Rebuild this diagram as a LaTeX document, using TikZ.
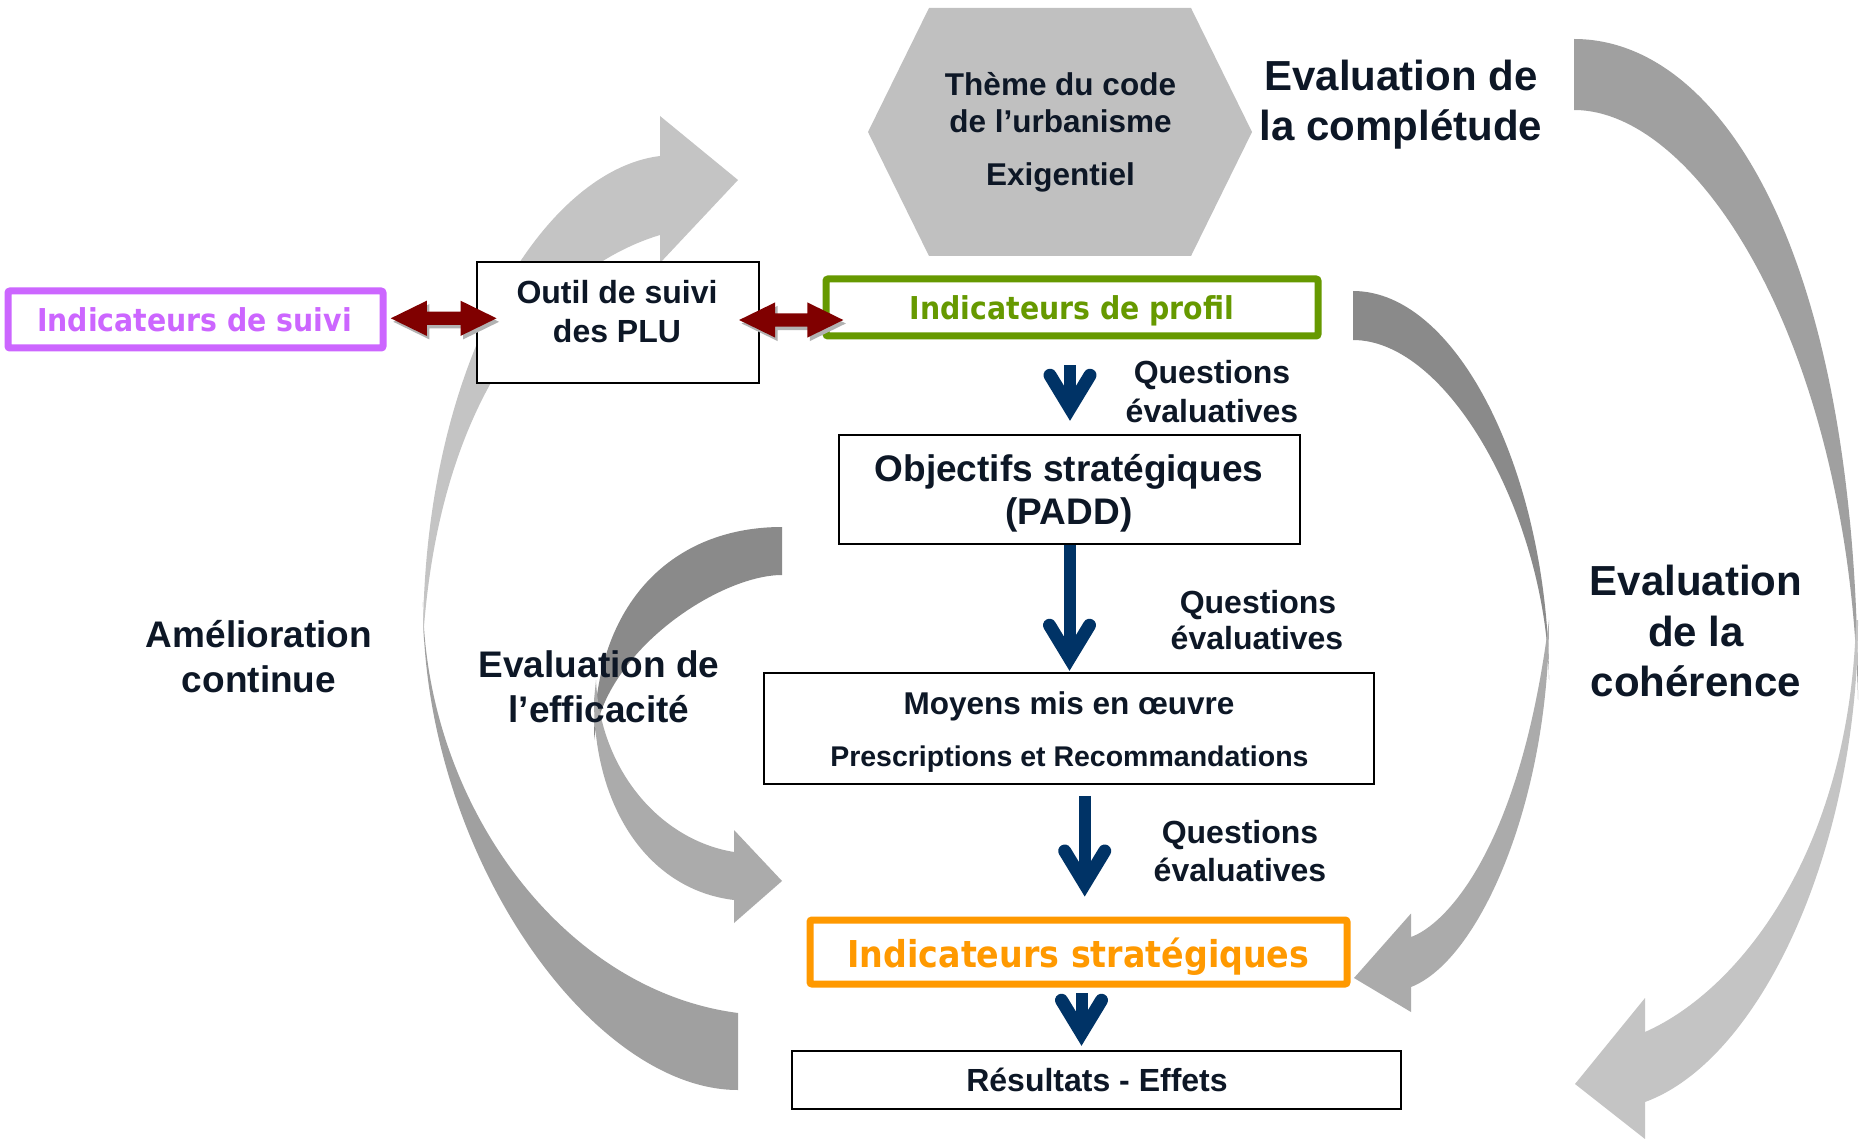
\documentclass[tikz,border=0pt]{standalone}
\usepackage{fontspec}
\setmainfont{Liberation Sans}
\newfontfamily\condfont{DejaVu Sans}[FakeStretch=0.9]
\usetikzlibrary{calc}
\definecolor{txt}{HTML}{0D1726}
\definecolor{gA}{HTML}{C4C4C4}
\definecolor{gB}{HTML}{A0A0A0}
\definecolor{gC}{HTML}{8A8A8A}
\definecolor{gD}{HTML}{ABABAB}
\definecolor{hexgray}{HTML}{C0C0C0}
\definecolor{navyC}{HTML}{003366}
\definecolor{maroonC}{HTML}{800000}
\definecolor{magentaB}{HTML}{CC66FF}
\definecolor{greenB}{HTML}{669900}
\definecolor{orangeB}{HTML}{FF9900}
\newcommand\fsz[1]{\fontsize{#1}{#1}\selectfont}
\newcommand\dblarrow[3]{%
  \fill[#3] (#1) -- ++(36,-17.6) -- ++(0,10.9) -- ($(#2)+(-36,-6.7)$) -- ++(0,-10.9) -- (#2)
    -- ++(-36,17.6) -- ++(0,-10.9) -- ($(#1)+(36,6.7)$) -- ++(0,10.9) -- cycle;}
\begin{document}
\begin{tikzpicture}[x=1pt,y=-1pt,
  lbl/.style={anchor=base, inner sep=0pt, text=txt},
  bigT/.style={lbl, font=\fsz{42}\bfseries},
  midT/.style={lbl, font=\fsz{37}\bfseries},
  smT/.style={lbl, font=\fsz{32}\bfseries},
  colT/.style={anchor=base, inner sep=0pt},
  thinbox/.style={draw=black, line width=1.5pt, fill=white, inner sep=0pt},
  colbox/.style={line width=7pt, fill=white, inner sep=0pt, rounded corners=2pt},
  navyline/.style={draw=navyC, line width=12pt},
  navyhead/.pic={\draw[navyC, line width=13pt, line cap=round, line join=miter] (-20,-46) -- (0,-13) -- (20,-46);},
]
\fill[white] (0,0) rectangle (1863,1139);
\useasboundingbox (0,0) rectangle (1863,1139);

% ---- big right arc (coherence)
\fill[gB] (1574,39) .. controls (1720,39) and (1858,250) .. (1858,700)
  .. controls (1850,350) and (1700,110) .. (1574,110) -- cycle;
\fill[gA] (1858,620) .. controls (1858,850) and (1760,1060) .. (1645,1102)
  -- (1645,1139) -- (1575,1084) -- (1645,998) -- (1645,1032)
  .. controls (1740,990) and (1850,850) .. (1856,620) -- cycle;

% ---- middle right arc
\fill[gC] (1353,291) .. controls (1460,291) and (1549,480) .. (1549,680)
  .. controls (1547,520) and (1450,340) .. (1353,340) -- cycle;
\fill[gD] (1549,620) .. controls (1549,800) and (1480,960) .. (1411,987)
  -- (1411,1012) -- (1354,978) -- (1411,913.5) -- (1411,937)
  .. controls (1445,925) and (1520,850) .. (1549,620) -- cycle;

% ---- efficacite arc
\fill[gC] (782,527) .. controls (675,527) and (594,600) .. (594,740)
  .. controls (605,650) and (720,575) .. (782,575) -- cycle;
\fill[gD] (594,700) .. controls (594,810) and (650,890) .. (734,900)
  -- (734,923) -- (782,881) -- (734,830) -- (734,852)
  .. controls (660,840) and (600,770) .. (596,680) -- cycle;

% ---- left arc (amelioration continue)
\fill[gB] (738,1090) .. controls (590,1090) and (421,850) .. (423,600)
  .. controls (424,800) and (560,990) .. (738,1013) -- cycle;
\fill[gA] (660,156) .. controls (545,170) and (423,360) .. (423,640)
  .. controls (440,380) and (560,265) .. (660,235)
  -- (660,263) -- (738,180) -- (660,116) -- cycle;

% ---- hexagon
\fill[hexgray] (929,8) -- (1191,8) -- (1252,132) -- (1191,256) -- (929,256) -- (868,132) -- cycle;
\coordinate (theme) at (1060,132);
\node[smT, font=\fsz{31.5}\bfseries] (th1) at (1060.5,95.3) {Thème du code};
\node[smT, font=\fsz{31.5}\bfseries] (th2) at (1060.5,132.7) {de l’urbanisme};
\node[smT, font=\fsz{31.5}\bfseries] (th3) at (1060.5,186) {Exigentiel};

% ---- boxes
\node[colbox, draw=magentaB, minimum width=375pt, minimum height=57pt] (suivi) at (195.5,319.5) {};
\node[thinbox, minimum width=282pt, minimum height=121pt] (outil) at (618,322.5) {};
\node[colbox, draw=greenB, minimum width=492pt, minimum height=57pt] (profil) at (1072,307.5) {};
\node[thinbox, minimum width=461pt, minimum height=109pt] (objectifs) at (1069.5,489.5) {};
\node[thinbox, minimum width=610pt, minimum height=111pt] (moyens) at (1069,728.5) {};
\node[colbox, draw=orangeB, minimum width=537pt, minimum height=64pt] (strat) at (1078.5,952) {};
\node[thinbox, minimum width=609pt, minimum height=58pt] (resultats) at (1096.5,1080) {};

% ---- box texts
\node[colT, text=magentaB, font=\condfont\bfseries\fsz{31.5}] (suiviT) at (194.4,331.6) {Indicateurs de suivi};
\node[smT] (outilT1) at (617,304) {Outil de suivi};
\node[smT] (outilT2) at (617,342.3) {des PLU};
\node[colT, text=greenB, font=\condfont\bfseries\fsz{31.5}] (profilT) at (1072,320) {Indicateurs de profil};
\node[midT] (objT1) at (1069,481.4) {Objectifs stratégiques};
\node[midT] (objT2) at (1069,524) {(PADD)};
\node[lbl, font=\fsz{31.5}\bfseries] (moyT1) at (1069,714) {Moyens mis en œuvre};
\node[lbl, font=\fsz{28.5}\bfseries] (moyT2) at (1069.4,766.4) {Prescriptions et Recommandations};
\node[colT, text=orangeB, font=\condfont\bfseries\fsz{37}] (stratT) at (1078.4,967.3) {Indicateurs stratégiques};
\node[smT] (resT) at (1097,1091.5) {Résultats - Effets};

% ---- free labels
\node[bigT] (compl1) at (1401,91) {Evaluation de};
\node[bigT] (compl2) at (1401,141) {la complétude};
\node[bigT] (coh1) at (1696,595) {Evaluation};
\node[bigT] (coh2) at (1696,646) {de la};
\node[bigT] (coh3) at (1696,696.5) {cohérence};
\node[midT] (am1) at (259,647) {Amélioration};
\node[midT] (am2) at (259,692) {continue};
\node[midT] (eff1) at (599,677) {Evaluation de};
\node[midT] (eff2) at (599,722) {l’efficacité};
\node[smT] (q1a) at (1212,383.8) {Questions};
\node[smT] (q1b) at (1212,422) {évaluatives};
\node[smT] (q2a) at (1258,613.4) {Questions};
\node[smT] (q2b) at (1257,649.7) {évaluatives};
\node[smT] (q3a) at (1240,843) {Questions};
\node[smT] (q3b) at (1240,881) {évaluatives};

% ---- red double arrows
\coordinate (r1a) at ($(suivi.east)+(4.3,-1.2)$);
\coordinate (r1b) at ($(r1a -| outil.west)+(20.3,0)$);
\coordinate (r2a) at ($(outil.east)+(-20.6,-2.5)$);
\coordinate (r2b) at ($(r2a -| profil.west)+(20.8,0)$);
\begin{scope}[transform canvas={shift={(2.5pt,-3.5pt)}}]
  \dblarrow{r1a}{r1b}{black!30}
  \dblarrow{r2a}{r2b}{black!30}
\end{scope}
\dblarrow{r1a}{r1b}{maroonC}
\dblarrow{r2a}{r2b}{maroonC}

% ---- navy arrows
\coordinate (b1s) at ($(profil.south)+(-2,26)$);
\coordinate (b1e) at ($(b1s |- objectifs.north)+(0,-13)$);
\coordinate (b2s) at (objectifs.south);
\coordinate (b2e) at ($(b2s |- moyens.north)+(0,-1)$);
\coordinate (b3s) at ($(moyens.south)+(15.7,11)$);
\coordinate (b3e) at ($(b3s |- strat.north)+(0,-19.5)$);
\coordinate (b4s) at ($(strat.south)+(3,5.7)$);
\coordinate (b4e) at ($(b4s |- resultats.north)+(0,-4)$);
\foreach \s/\e in {b1s/b1e,b2s/b2e,b3s/b3e,b4s/b4e}{
  \draw[navyline] (\s) -- ($(\e)+(0,-20)$);
  \pic at (\e) {navyhead};
}
\end{tikzpicture}
\end{document}
